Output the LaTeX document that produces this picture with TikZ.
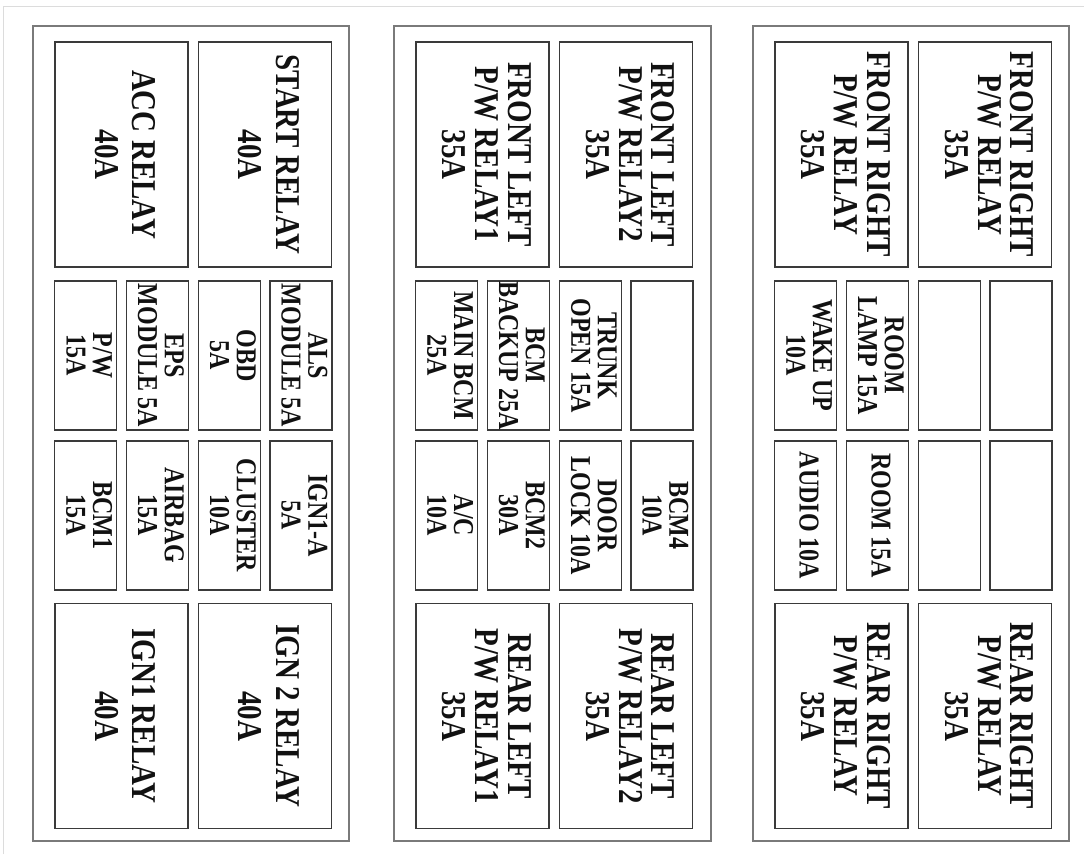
\documentclass[tikz,border=0pt]{standalone}
\usepackage{fontspec}
\setmainfont{Liberation Serif}
\usepackage{graphicx}
\newcommand{\lbl}[1]{\scalebox{1}[1.2]{\begin{tabular}{@{}c@{}}#1\end{tabular}}}
\definecolor{boxc}{HTML}{3A3A3A}
\definecolor{panelc}{HTML}{7A7A7A}
\definecolor{framec}{HTML}{DCDCDC}
\definecolor{textc}{HTML}{111111}
\tikzset{
  fbox/.style={draw=boxc, line width=1.5pt, rectangle, inner sep=0pt, outer sep=0pt,
    rotate=-90, text=textc},
  relaytwo/.style={fbox, minimum width=225pt, minimum height=133pt,
    font=\bfseries\fontsize{29}{31}\selectfont},
  relaythree/.style={fbox, minimum width=225pt, minimum height=133pt,
    font=\bfseries\fontsize{29}{26.7}\selectfont},
  fuse/.style={fbox, minimum width=149pt, minimum height=62pt,
    font=\bfseries\fontsize{24}{21}\selectfont},
  panel/.style={draw=panelc, line width=1.6pt},
}
\begin{document}
\begin{tikzpicture}[x=1pt,y=-1pt]
\useasboundingbox (0,0) rectangle (1084,854);
\draw[framec, line width=1pt] (3,854) -- (3,6) -- (1084,6);

% ---------- panel 1 ----------
\begin{scope}[xshift=33pt]
\draw[panel] (0,26) rectangle (316,841);
\node[relaytwo] (acc)   at (88.25,154.5) {\lbl{ACC RELAY\\40A}};
\node[relaytwo] (start) at (232,154.5)   {\lbl{START RELAY\\40A}};
\node[fuse] (pw)     at (52.5,355.5)  {\lbl{P/W\\15A}};
\node[fuse] (eps)    at (124.25,355.5) {\lbl{EPS\\MODULE 5A}};
\node[fuse] (obd)    at (196.25,355.5) {\lbl{OBD\\5A}};
\node[fuse] (als)    at (267.75,355.5) {\lbl{ALS\\MODULE 5A}};
\node[fuse] (bcmone) at (52.5,515.5)  {\lbl{BCM1\\15A}};
\node[fuse] (airbag) at (124.25,515.5) {\lbl{AIRBAG\\15A}};
\node[fuse] (cluster) at (196.25,515.5) {\lbl{CLUSTER\\10A}};
\node[fuse] (igna)   at (267.75,515.5) {\lbl{IGN1-A\\5A}};
\node[relaytwo] (ignone) at (88.25,716) {\lbl{IGN1 RELAY\\40A}};
\node[relaytwo] (igntwo) at (232,716)   {\lbl{IGN 2 RELAY\\40A}};
\end{scope}

% ---------- panel 2 ----------
\begin{scope}[xshift=394pt]
\draw[panel] (0,26) rectangle (317,841);
\node[relaythree] (flone) at (88.25,154.5) {\lbl{FRONT LEFT\\P/W RELAY1\\35A}};
\node[relaythree] (fltwo) at (232,154.5)   {\lbl{FRONT LEFT\\P/W RELAY2\\35A}};
\node[fuse] (mainbcm) at (52.5,355.5)  {\lbl{MAIN BCM\\25A}};
\node[fuse] (bcmbk)   at (124.25,355.5) {\lbl{BCM\\BACKUP 25A}};
\node[fuse] (trunk)   at (196.25,355.5) {\lbl{TRUNK\\OPEN 15A}};
\node[fuse] (emptya)  at (267.75,355.5) {};
\node[fuse] (ac)      at (52.5,515.5)  {\lbl{A/C\\10A}};
\node[fuse] (bcmtwo)  at (124.25,515.5) {\lbl{BCM2\\30A}};
\node[fuse] (door)    at (196.25,515.5) {\lbl{DOOR\\LOCK 10A}};
\node[fuse] (bcmfour) at (267.75,515.5) {\lbl{BCM4\\10A}};
\node[relaythree] (rlone) at (88.25,716) {\lbl{REAR LEFT\\P/W RELAY1\\35A}};
\node[relaythree] (rltwo) at (232,716)   {\lbl{REAR LEFT\\P/W RELAY2\\35A}};
\end{scope}

% ---------- panel 3 ----------
\begin{scope}[xshift=753pt]
\draw[panel] (0,26) rectangle (316,841);
\node[relaythree] (frone) at (88.25,154.5) {\lbl{FRONT RIGHT\\P/W RELAY\\35A}};
\node[relaythree] (frtwo) at (232,154.5)   {\lbl{FRONT RIGHT\\P/W RELAY\\35A}};
\node[fuse] (wake)   at (52.5,355.5)  {\lbl{WAKE UP\\10A}};
\node[fuse] (lamp)   at (124.25,355.5) {\lbl{ROOM\\LAMP 15A}};
\node[fuse] (emptyb) at (196.25,355.5) {};
\node[fuse] (emptyc) at (267.75,355.5) {};
\node[fuse] (audio)  at (52.5,515.5)  {\lbl{AUDIO 10A}};
\node[fuse] (room)   at (124.25,515.5) {\lbl{ROOM 15A}};
\node[fuse] (emptyd) at (196.25,515.5) {};
\node[fuse] (emptye) at (267.75,515.5) {};
\node[relaythree] (rrone) at (88.25,716) {\lbl{REAR RIGHT\\P/W RELAY\\35A}};
\node[relaythree] (rrtwo) at (232,716)   {\lbl{REAR RIGHT\\P/W RELAY\\35A}};
\end{scope}
\end{tikzpicture}
\end{document}
